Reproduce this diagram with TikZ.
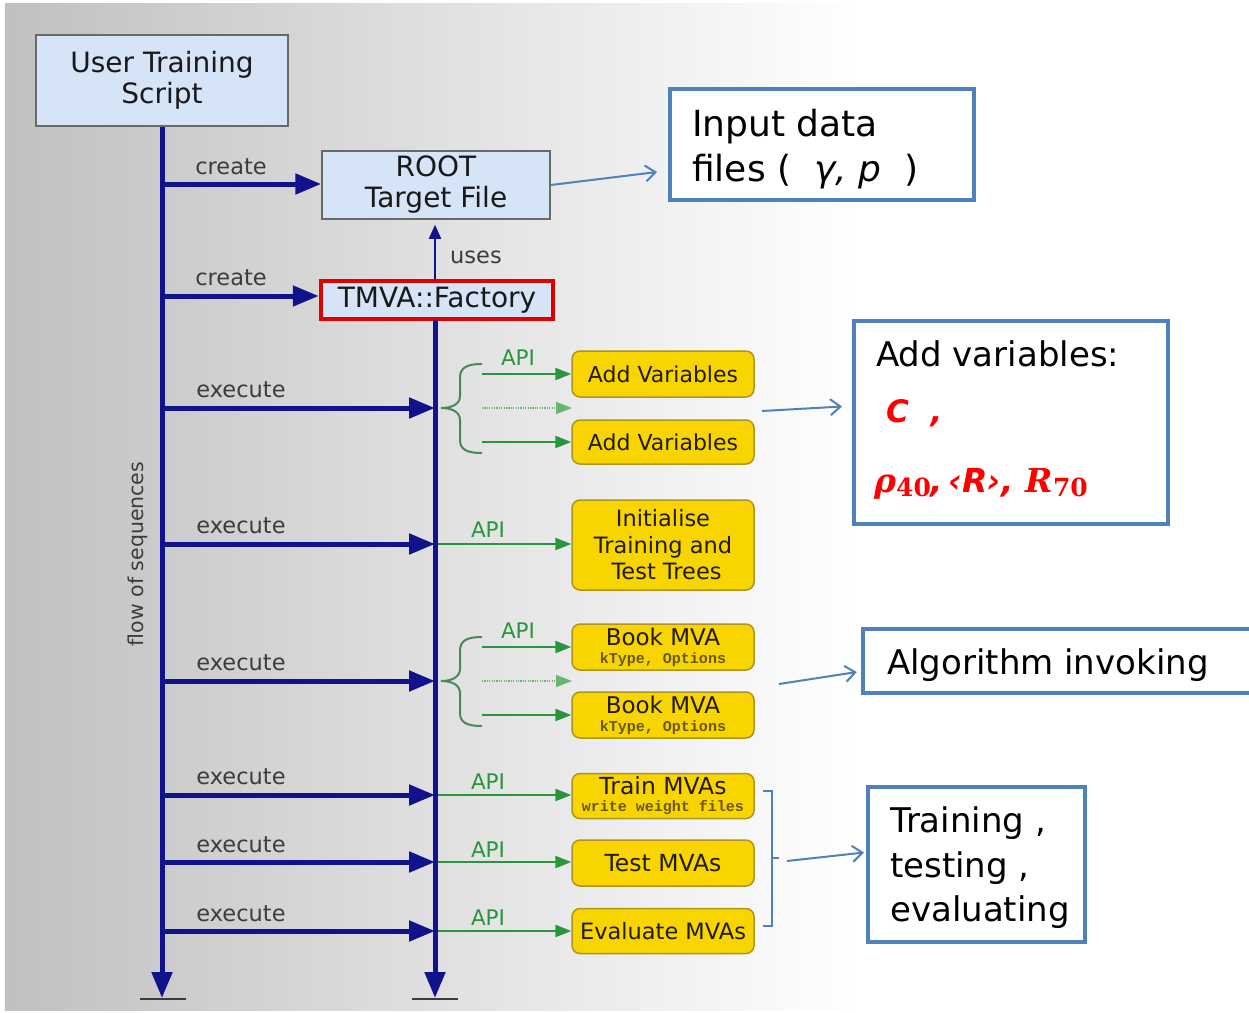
\documentclass[tikz,border=0pt]{standalone}
\usepackage{fontspec}
\setmainfont{DejaVu Sans}
\newfontfamily\monob{Liberation Mono}
\newfontfamily\serifb{DejaVu Serif}
\usetikzlibrary{arrows.meta,calc}
\definecolor{navy}{RGB}{18,18,140}
\definecolor{labgray}{RGB}{60,60,60}
\definecolor{boxfill}{RGB}{214,228,248}
\definecolor{boxedge}{RGB}{105,105,105}
\definecolor{yfill}{RGB}{248,212,0}
\definecolor{yedge}{RGB}{175,148,30}
\definecolor{ytext}{RGB}{34,28,0}
\definecolor{ysub}{RGB}{105,88,20}
\definecolor{apigreen}{RGB}{40,150,60}
\definecolor{bracegreen}{RGB}{75,135,90}
\definecolor{cblue}{RGB}{79,129,189}
\definecolor{facred}{RGB}{225,0,0}
\definecolor{bgdark}{RGB}{192,192,192}
\begin{document}
\begin{tikzpicture}[x=1pt,y=-1pt,
  lbl/.style={text=labgray,font=\fontsize{22.5}{26}\selectfont,inner sep=0},
  navyln/.style={draw=navy,line width=5pt},
  navyarr/.style={navyln,-{Triangle[length=26pt,width=20pt]}},
  bluebox/.style={draw=boxedge,fill=boxfill,line width=1.5pt,align=center,inner sep=0,text=black!90,font=\fontsize{28}{31}\selectfont},
  ybox/.style={draw=yedge,fill=yfill,line width=1.5pt,rounded corners=8pt,minimum width=182pt,align=center,inner sep=0,text=ytext},
  subt/.style={},
  apiarr/.style={draw=apigreen,line width=2.5pt,-{Triangle[length=16pt,width=12pt]}},
  dotarr/.style={draw=apigreen!70,line width=1.5pt,dash pattern=on 1.2pt off 1.2pt,-{Triangle[length=16pt,width=12pt]}},
  bracest/.style={draw=bracegreen,line width=2pt},
  apilbl/.style={text=apigreen,font=\fontsize{21.5}{24}\selectfont,inner sep=0},
  callout/.style={draw=cblue,line width=4pt,fill=white,inner sep=0},
  ctext/.style={font=\fontsize{34}{45}\selectfont,inner sep=0,anchor=base west,text=black},
  redt/.style={inner sep=0,anchor=base west,text=red},
  carr/.style={draw=cblue,line width=2pt,-{Straight Barb[length=10pt,width=16pt]}},
  tick/.style={draw=labgray,line width=2pt},
]
\newcommand\msub[1]{{\monob\bfseries\fontsize{15}{15}\selectfont\color{ysub}#1}}
\useasboundingbox (0,0) rectangle (1249,1012);
\shade[left color=bgdark,right color=white] (5,3) rectangle (860,1010);

% ---- main boxes
\node[bluebox,minimum width=252pt,minimum height=91pt] (uts) at (162,80.5) {User Training\\Script};
\node[bluebox,minimum width=228pt,minimum height=68pt] (root) at (436,185) {ROOT\\Target File};
\node[bluebox,draw=facred,line width=4.5pt,minimum width=232pt,minimum height=38pt] (fac) at (437,300) {TMVA::Factory};

% ---- yellow boxes
\node[ybox,minimum height=46pt,font=\fontsize{22}{24}\selectfont] (av1) at (663,374) {Add Variables};
\node[ybox,minimum height=44pt,font=\fontsize{22}{24}\selectfont] (av2) at (663,442) {Add Variables};
\node[ybox,minimum height=90pt,font=\fontsize{22.5}{26.5}\selectfont] (init) at (663,545) {Initialise\\Training and\\\ Test Trees};
\node[ybox,minimum height=46pt,font=\fontsize{23}{18}\selectfont] (bm1) at (663,647) {Book MVA\\\msub{kType, Options}};
\node[ybox,minimum height=46pt,font=\fontsize{23}{18}\selectfont] (bm2) at (663,715) {Book MVA\\\msub{kType, Options}};
\node[ybox,minimum height=45pt,font=\fontsize{23.5}{17}\selectfont] (train) at (663,796) {Train MVAs\\\msub{write weight files}};
\node[ybox,minimum height=46pt,font=\fontsize{23.5}{26}\selectfont] (test) at (663,863) {Test MVAs};
\node[ybox,minimum height=45pt,font=\fontsize{22.5}{26}\selectfont] (eval) at (663,931) {Evaluate MVAs};

% ---- row coordinates
\coordinate (L0) at (162,184); \coordinate (L00) at (162,296);
\foreach \i/\y in {1/408,2/544,3/681,4/795,5/862,6/931}{
  \coordinate (L\i) at (162,\y);
  \coordinate (R\i) at (435,\y);
}
\coordinate (lend) at (162,998);
\coordinate (rend) at (435,998);
\coordinate (facbot) at (435,320);

% ---- green API arrows
\draw[apiarr] (R2) -- (R2 -| init.west);
\draw[apiarr] (R4) -- (R4 -| train.west);
\draw[apiarr] (R5) -- (R5 -| test.west);
\draw[apiarr] (R6) -- (R6 -| eval.west);
\foreach \o/\a/\b [count=\k] in {0/av1/av2,273/bm1/bm2}{
  \draw[bracest] (482,{364+\o}) .. controls (466,{364+\o}) and (460,{368+\o}) .. (460,{378+\o}) -- (460,{396+\o})
     .. controls (460,{404+\o}) and (452,{408+\o}) .. (441,{408+\o})
     .. controls (452,{408+\o}) and (460,{412+\o}) .. (460,{420+\o}) -- (460,{440+\o})
     .. controls (460,{449+\o}) and (466,{453+\o}) .. (482,{453+\o});
  \coordinate (ga\k) at (482,{374+\o});
  \coordinate (gb\k) at (482,{408+\o});
  \coordinate (gc\k) at (482,{442+\o});
  \coordinate (gd\k) at (572,{408+\o});
  \draw[apiarr] (ga\k) -- (ga\k -| \a.west);
  \draw[dotarr] (gb\k) -- (gd\k);
  \draw[apiarr] (gc\k) -- (gc\k -| \b.west);
}
\node[apilbl] (api1) at (518,358) {API};
\node[apilbl] (api2) at (488,530) {API};
\node[apilbl] (api3) at (518,631) {API};
\node[apilbl] (api4) at (488,782) {API};
\node[apilbl] (api5) at (488,850) {API};
\node[apilbl] (api6) at (488,918) {API};

% ---- navy lines
\draw[navyarr] (uts.south) -- (lend);
\draw[navyarr] (facbot) -- (rend);
\draw[tick] (140,999) -- (186,999);
\draw[tick] (412,999) -- (458,999);
\draw[navyarr] (L0) -- (L0 -| root.west);
\draw[navyarr] (L00) -- (L00 -| fac.west);
\foreach \i in {1,...,6}{ \draw[navyarr] (L\i) -- (R\i); }
\draw[draw=navy,line width=2pt,-{Triangle[length=14pt,width=12pt]},shorten >=5pt] (fac.north -| facbot) -- (root.south -| facbot);

% ---- labels
\node[lbl] (c1) at (231,167) {create};
\node[lbl] (c2) at (231,278) {create};
\node[lbl] (us) at (476,257) {uses};
\foreach \y [count=\k] in {390,526,663,777,845,914}{ \node[lbl] (ex\k) at (241,\y) {execute}; }
\node[lbl,rotate=90,font=\fontsize{20.5}{24}\selectfont] (flow) at (138,554) {flow of sequences};

% ---- bracket on right of train/test/eval
\coordinate (bk) at (787,861);
\draw[draw=cblue,line width=2pt] (763,791) -- (772,791) -- (772,926) -- (763,926);
\draw[draw=cblue,line width=2pt] (772,858) -- (779,858);

% ---- callouts
\node[callout,minimum width=304pt,minimum height=111pt] (inbox) at (822,144.5) {};
\node[ctext,font=\fontsize{36}{45}\selectfont] (in1) at (692,136) {Input data};
\node[ctext,font=\fontsize{36}{45}\selectfont] (in2) at (692,181) {files (\ \ \textit{γ, p}\ \ )};

\node[callout,minimum width=314pt,minimum height=203pt] (addv) at (1011,422.5) {};
\node[ctext] (ad1) at (876,366) {Add variables:};
\node[redt,font=\fontsize{31}{36}\selectfont\bfseries\itshape] (ad2) at (886,422) {C\ \ ,};
\node[redt,font=\fontsize{33}{36}\selectfont] (ad3) at (874,492) {{\serifb\bfseries\itshape ρ}\raisebox{-4pt}{\serifb\bfseries\fontsize{25}{26}\selectfont 40}{\bfseries\itshape ,\,‹R›, }{\serifb\bfseries\itshape R}\raisebox{-4pt}{\serifb\bfseries\fontsize{25}{26}\selectfont 70}};

\node[minimum width=390pt,minimum height=64pt,inner sep=0,fill=white] (alg) at (1058,661) {};
\draw[draw=cblue,line width=4pt] (alg.north east) -- (alg.north west) -- (alg.south west) -- (alg.south east);
\node[ctext] (al1) at (887,674) {Algorithm invoking};

\node[callout,minimum width=217pt,minimum height=155pt] (trn) at (976.5,864.5) {};
\node[ctext] (tr1) at (890,832) {Training ,};
\node[ctext] (tr2) at (890,877) {testing ,};
\node[ctext] (tr3) at (890,921) {evaluating};

% ---- callout arrows
\coordinate (avs) at (762,411);
\coordinate (bms) at (779,684);
\draw[carr] (root.east) -- (657,172) coordinate (inend);
\draw[carr] (avs) -- ($(addv.west)+(-10,-16)$);
\draw[carr] (bms) -- ($(alg.west)+(-6,11)$);
\draw[carr] (bk) -- ($(trn.west)+(-2,-12)$);
\end{tikzpicture}
\end{document}
